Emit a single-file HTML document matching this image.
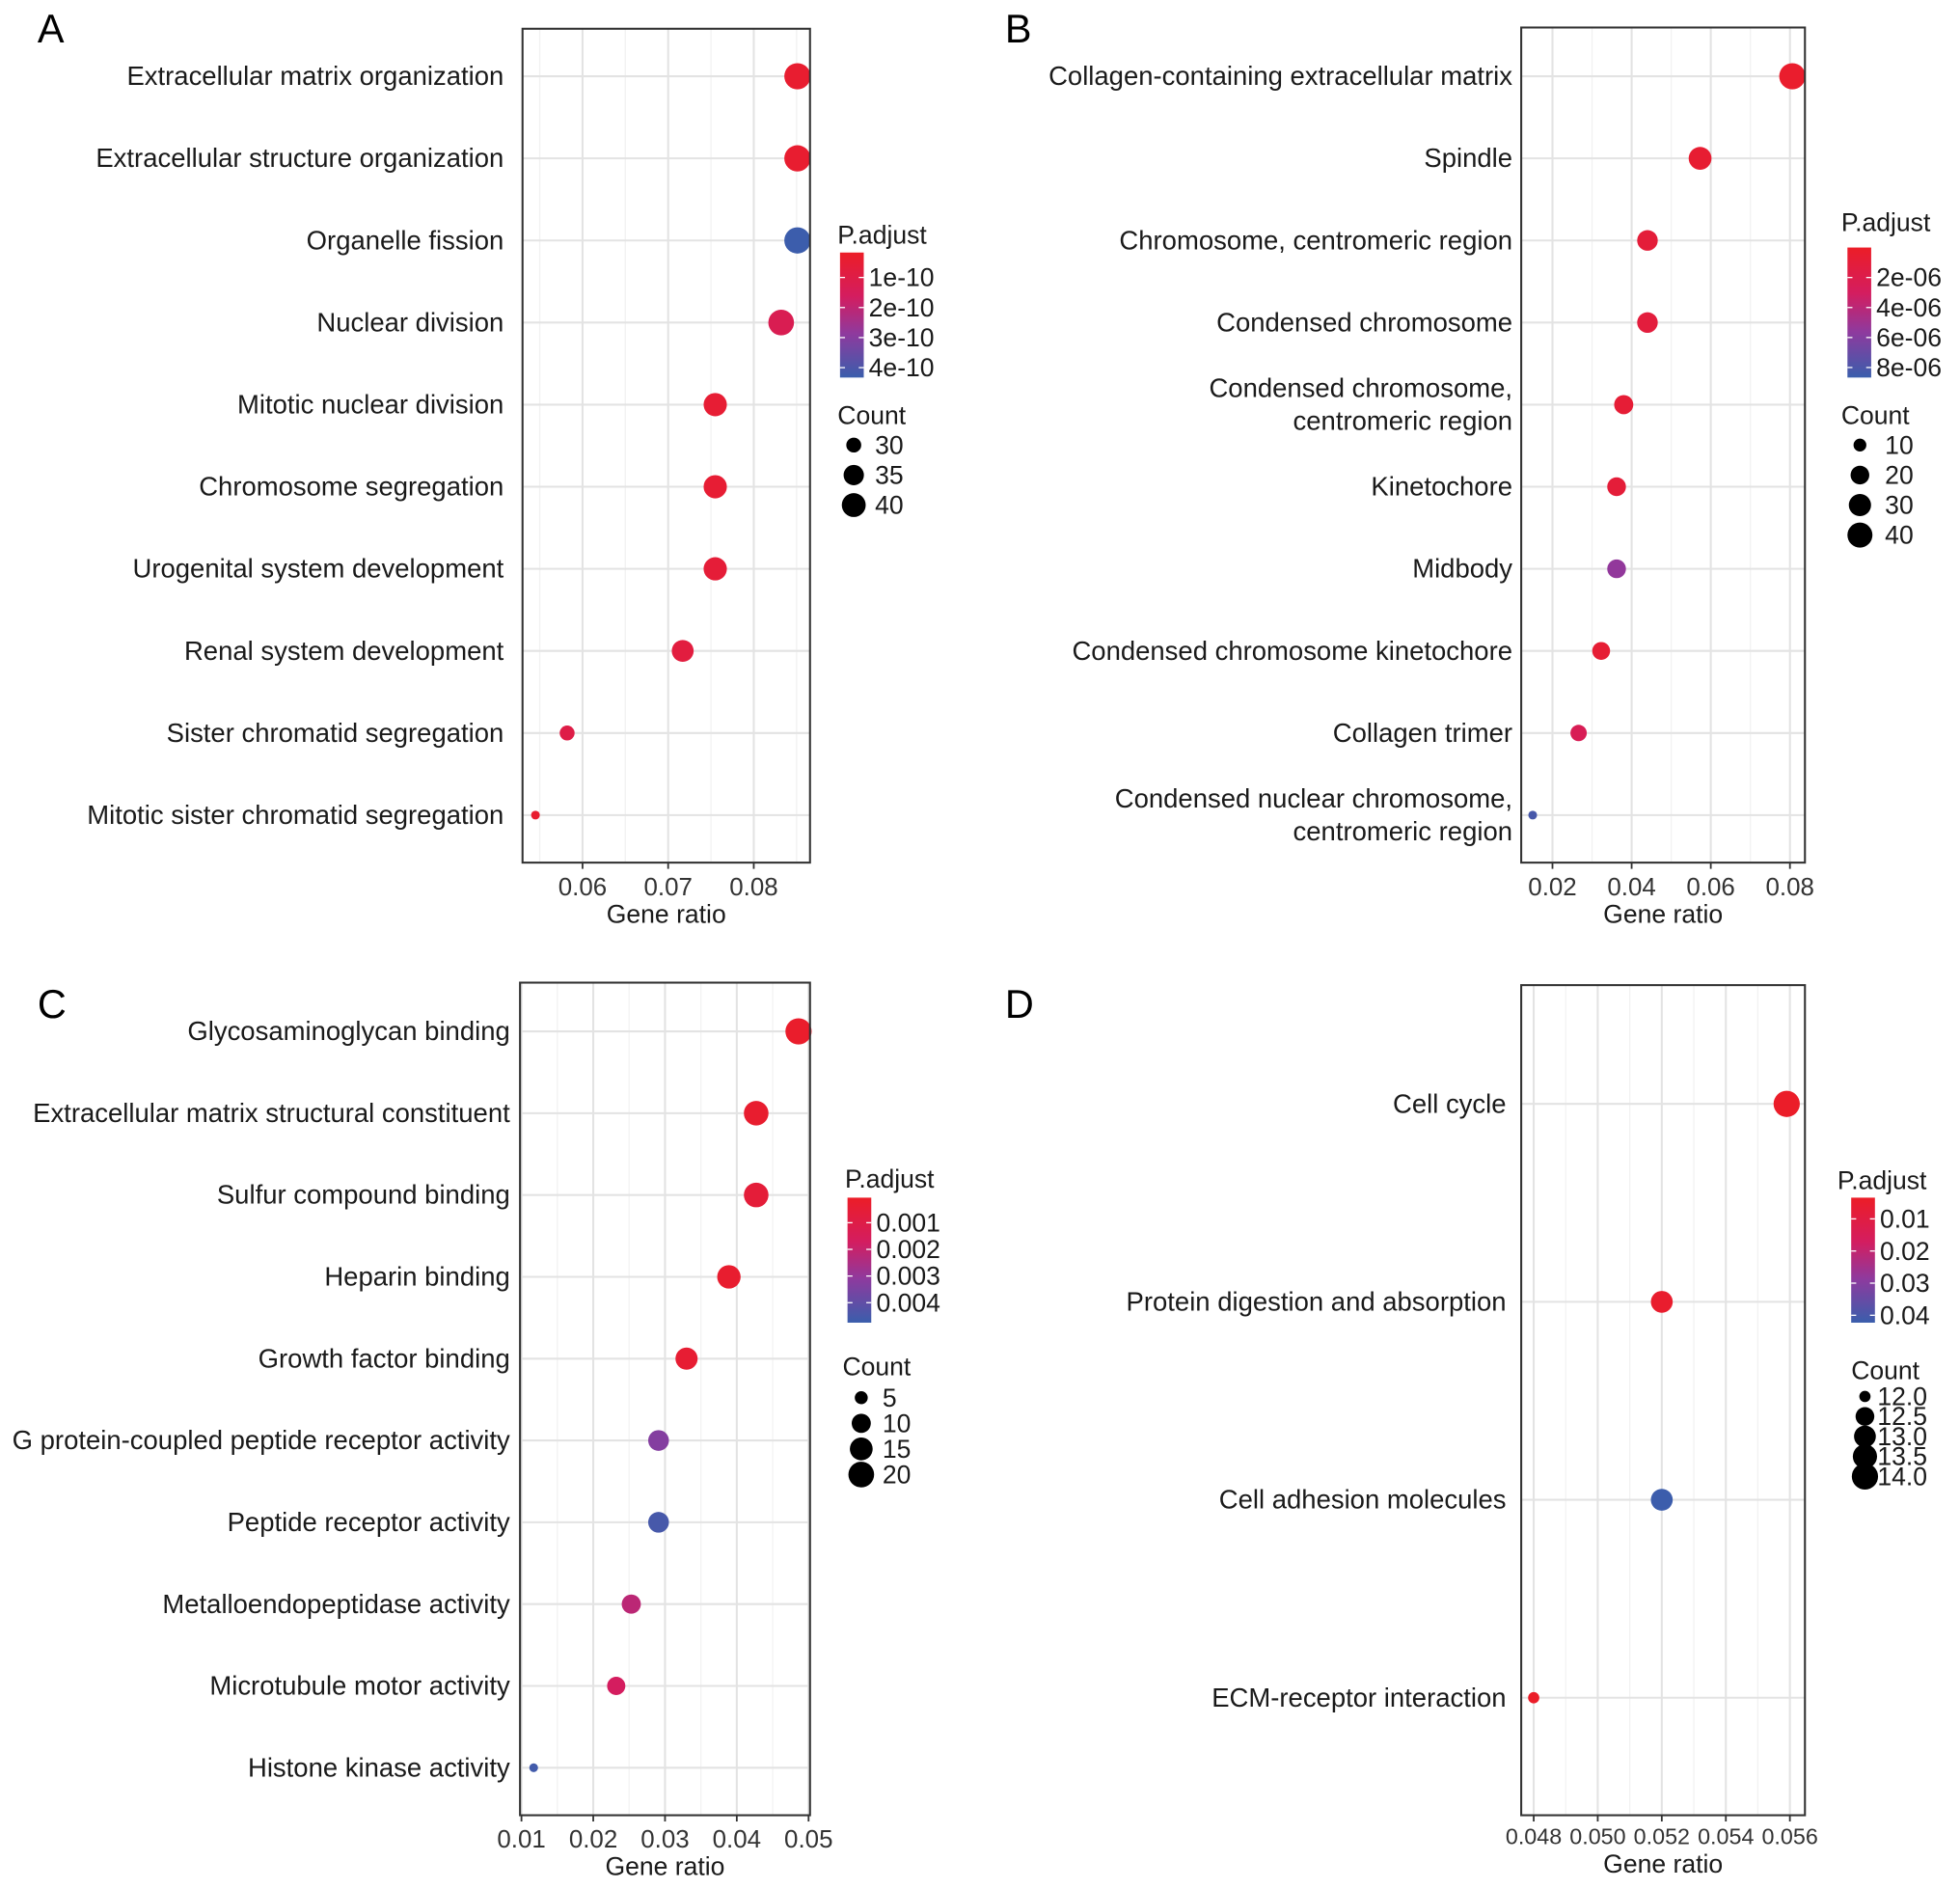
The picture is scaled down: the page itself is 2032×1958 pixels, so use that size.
<!DOCTYPE html>
<html><head><meta charset="utf-8">
<style>
html,body{margin:0;padding:0;background:#fff;}
svg{display:block;font-family:"Liberation Sans",Arial,sans-serif;}
</style></head>
<body>
<svg id="fig" xmlns="http://www.w3.org/2000/svg" width="2032" height="1958" viewBox="0 0 1568 1511">
<defs>
<linearGradient id="cbar" x1="0" y1="0" x2="0" y2="1">
<stop offset="0" stop-color="#EC1D27"/><stop offset="0.35" stop-color="#D41D5F"/><stop offset="0.65" stop-color="#8E3A9E"/><stop offset="1" stop-color="#3A5EAC"/>
</linearGradient>
</defs>
</svg>
<script>
// ---- Panel A data ----
const aTerms=["Extracellular matrix organization","Extracellular structure organization","Organelle fission","Nuclear division","Mitotic nuclear division","Chromosome segregation","Urogenital system development","Renal system development","Sister chromatid segregation","Mitotic sister chromatid segregation"];
const aRatio=[0.0851,0.0851,0.0851,0.0832,0.0755,0.0755,0.0755,0.0717,0.0582,0.0545];
const aPadj=[0.4e-10,0.4e-10,4.3e-10,1.3e-10,0.5e-10,0.5e-10,0.6e-10,0.8e-10,1.0e-10,0.4e-10];
const aCount=[44,44,44,43,39,39,39,37,30,28];
const aTicks=[0.06,0.07,0.08];
const aTickLabels=["0.06","0.07","0.08"];
const aCbarTicks=[1e-10,2e-10,3e-10,4e-10];
const aCbarLabels=["1e-10","2e-10","3e-10","4e-10"];
const aCountLegend=[30,35,40];
// ---- Panel B data ----
const bTerms=["Collagen-containing extracellular matrix","Spindle","Chromosome, centromeric region","Condensed chromosome","Condensed chromosome,|centromeric region","Kinetochore","Midbody","Condensed chromosome kinetochore","Collagen trimer","Condensed nuclear chromosome,|centromeric region"];
const bRatio=[0.0806,0.0573,0.0440,0.0440,0.0380,0.0362,0.0362,0.0323,0.0266,0.0150];
const bPadj=[0.3e-6,0.6e-6,1.0e-6,1.2e-6,0.8e-6,1.0e-6,5.5e-6,0.7e-6,2.5e-6,8.2e-6];
const bCount=[45,32,25,25,21,20,20,18,15,8];
const bTicks=[0.02,0.04,0.06,0.08];
const bTickLabels=["0.02","0.04","0.06","0.08"];
const bCbarTicks=[2e-6,4e-6,6e-6,8e-6];
const bCbarLabels=["2e-06","4e-06","6e-06","8e-06"];
const bCountLegend=[10,20,30,40];
// ---- Panel C data ----
const cTerms=["Glycosaminoglycan binding","Extracellular matrix structural constituent","Sulfur compound binding","Heparin binding","Growth factor binding","G protein-coupled peptide receptor activity","Peptide receptor activity","Metalloendopeptidase activity","Microtubule motor activity","Histone kinase activity"];
const cRatio=[0.0486,0.0427,0.0427,0.0389,0.0330,0.0291,0.0291,0.0253,0.0232,0.0117];
const cPadj=[0.0002,0.0003,0.0006,0.0003,0.0004,0.0033,0.0045,0.0022,0.0017,0.0046];
const cCount=[21,18,18,16,14,12,12,10,9,4];
const cTicks=[0.01,0.02,0.03,0.04,0.05];
const cTickLabels=["0.01","0.02","0.03","0.04","0.05"];
const cCbarTicks=[0.001,0.002,0.003,0.004];
const cCbarLabels=["0.001","0.002","0.003","0.004"];
const cCountLegend=[5,10,15,20];
// ---- Panel D data ----
const dTerms=["Cell cycle","Protein digestion and absorption","Cell adhesion molecules","ECM-receptor interaction"];
const dRatio=[0.0559,0.0520,0.0520,0.0480];
const dPadj=[0.004,0.005,0.042,0.004];
const dCount=[14,13,13,12];
const dTicks=[0.048,0.050,0.052,0.054,0.056];
const dTickLabels=["0.048","0.050","0.052","0.054","0.056"];
const dCbarTicks=[0.01,0.02,0.03,0.04];
const dCbarLabels=["0.01","0.02","0.03","0.04"];
const dCountLegend=[12.0,12.5,13.0,13.5,14.0];

const NS="http://www.w3.org/2000/svg";
const svg=document.getElementById('fig');
function mk(tag,attrs,parent){const e=document.createElementNS(NS,tag);for(const k in attrs)e.setAttribute(k,attrs[k]);(parent||svg).appendChild(e);return e;}
const stops=[[0,[236,29,39]],[0.35,[212,29,95]],[0.65,[142,58,158]],[1,[58,94,172]]];
function grad(t){t=Math.max(0,Math.min(1,t));for(let i=1;i<stops.length;i++){if(t<=stops[i][0]){const a=stops[i-1],b=stops[i];const u=(t-a[0])/(b[0]-a[0]);const c=a[1].map((v,j)=>Math.round(v+(b[1][j]-v)*u));return `rgb(${c[0]},${c[1]},${c[2]})`;}}return 'rgb(58,94,172)';}

function panel(cfg){
  const g=mk('g',{});
  
  
  const L=cfg.box[0],T=cfg.box[1],R=cfg.box[2],B=cfg.box[3];
  const xs=v=>L+(v-cfg.dom[0])/(cfg.dom[1]-cfg.dom[0])*(R-L);
  const n=cfg.terms.length;
  const ys=i=>cfg.rowTop+i*(cfg.rowBot-cfg.rowTop)/(n-1);
  const let_=mk('text',{x:cfg.letter[0],y:cfg.letter[1],'font-size':32,fill:'#000'},g);let_.textContent=cfg.letter[2];
  
  
  for(let i=0;i<cfg.ticks.length+1;i++){
    const step=cfg.ticks[1]-cfg.ticks[0];
    const v=cfg.ticks[0]-step/2+i*step;
    if(v>cfg.dom[0]&&v<cfg.dom[1]){mk('line',{x1:xs(v),x2:xs(v),y1:T,y2:B,stroke:'#f2f2f2','stroke-width':1},g);}
  }
  cfg.ticks.forEach(v=>{mk('line',{x1:xs(v),x2:xs(v),y1:T,y2:B,stroke:'#e3e3e3','stroke-width':1.6},g);});
  cfg.terms.forEach((t,i)=>{
    const gl=mk('line',{x1:L,x2:R,y1:ys(i),y2:ys(i),stroke:'#e3e3e3','stroke-width':1.6},g);
    
    
    const lines=t.split('|');
    const tx=mk('text',{x:L-cfg.labGap,'text-anchor':'end','font-size':21.2,fill:'#1a1a1a'},g);
    
    
    lines.forEach((ln,k)=>{const ts=mk('tspan',{x:L-cfg.labGap,y:ys(i)+7+(k-(lines.length-1)/2)*26},tx);ts.textContent=ln;});
  });
  const cmin=Math.min(...cfg.count),cmax=Math.max(...cfg.count);
  const rs=c=>cfg.r[0]+(cfg.r[1]-cfg.r[0])*Math.sqrt(Math.max(0,(c-cmin)/(cmax-cmin)));
  const cs=p=>grad((p-cfg.pdom[0])/(cfg.pdom[1]-cfg.pdom[0]));
  cfg.ratio.forEach((v,i)=>{
    const c=mk('circle',{cx:xs(v),cy:ys(i),r:rs(cfg.count[i]),fill:cs(cfg.padj[i])},g);
    
    
  });
  const border=mk('rect',{x:L,y:T,width:R-L,height:B-T,fill:'none',stroke:'#333','stroke-width':1.6},g);
  
  
  cfg.ticks.forEach((v,i)=>{
    mk('line',{x1:xs(v),x2:xs(v),y1:B,y2:B+5,stroke:'#333','stroke-width':1.4},g);
    const tl=mk('text',{x:xs(v),y:B+cfg.tickDy,'text-anchor':'middle','font-size':cfg.tickFont,fill:'#333'},g);tl.textContent=cfg.tickLabels[i];
    
    
  });
  const at=mk('text',{x:(L+R)/2,y:B+cfg.titleDy,'text-anchor':'middle','font-size':20.5,fill:'#1a1a1a'},g);at.textContent='Gene ratio';
  
  
  const lg=cfg.leg;
  const pt=mk('text',{x:lg.tx,y:lg.ty,'font-size':20.5,fill:'#1a1a1a'},g);pt.textContent='P.adjust';
  
  
  const cb=mk('rect',{x:lg.bx,y:lg.by0,width:19,height:lg.by1-lg.by0,fill:'url(#cbar)'},g);
  
  
  const cy=p=>lg.by0+(p-cfg.pdom[0])/(cfg.pdom[1]-cfg.pdom[0])*(lg.by1-lg.by0);
  cfg.cbarTicks.forEach((p,i)=>{
    mk('line',{x1:lg.bx,x2:lg.bx+4,y1:cy(p),y2:cy(p),stroke:'#fff','stroke-width':1},g);
    mk('line',{x1:lg.bx+15,x2:lg.bx+19,y1:cy(p),y2:cy(p),stroke:'#fff','stroke-width':1},g);
    const t=mk('text',{x:lg.bx+23,y:cy(p)+7,'font-size':20.5,fill:'#1a1a1a'},g);t.textContent=cfg.cbarLabels[i];
    
    
  });
  const ct=mk('text',{x:lg.ctx,y:lg.cty,'font-size':20.5,fill:'#1a1a1a'},g);ct.textContent='Count';
  
  
  cfg.countLegend.forEach((c,i)=>{
    const y=lg.cy0+i*lg.cdy;
    const cc=mk('circle',{cx:lg.cx,cy:y,r:rs(c),fill:'#000'},g);
    
    
    const t=mk('text',{x:lg.cx+lg.lx,y:y+7,'font-size':20.5,fill:'#1a1a1a'},g);t.textContent=c.toFixed(cfg.countDec);
    
    
  });
}

panel({name:'panel-a',letter:[30,34,'A'],box:[418,23,648,690],dom:[0.05299,0.08657],rowTop:61,rowBot:652,labGap:15,tickFont:20,
 terms:aTerms,ratio:aRatio,padj:aPadj,count:aCount,ticks:aTicks,tickLabels:aTickLabels,tickDy:26,titleDy:48,
 pdom:[0.17e-10,4.33e-10],r:[3.5,10.5],cbarTicks:aCbarTicks,cbarLabels:aCbarLabels,countLegend:aCountLegend,countDec:0,
 leg:{tx:670,ty:195,bx:672,by0:202,by1:302,ctx:670,cty:339,cx:683,cy0:356,cdy:24,lx:17}});
panel({name:'panel-b',letter:[804,34,'B'],box:[1217,22,1444,690],dom:[0.0121,0.08379],rowTop:61,rowBot:652,labGap:7,tickFont:20,
 terms:bTerms,ratio:bRatio,padj:bPadj,count:bCount,ticks:bTicks,tickLabels:bTickLabels,tickDy:26,titleDy:48,
 pdom:[0,8.67e-6],r:[3.5,10.5],cbarTicks:bCbarTicks,cbarLabels:bCbarLabels,countLegend:bCountLegend,countDec:0,
 leg:{tx:1473,ty:185,bx:1478,by0:198,by1:302,ctx:1473,cty:339,cx:1488,cy0:356,cdy:24,lx:20}});
panel({name:'panel-c',letter:[30,814,'C'],box:[416,786,648,1452],dom:[0.0098,0.0502],rowTop:825,rowBot:1414,labGap:8,tickFont:20,
 terms:cTerms,ratio:cRatio,padj:cPadj,count:cCount,ticks:cTicks,tickLabels:cTickLabels,tickDy:26,titleDy:48,
 pdom:[0.00006,0.00475],r:[3.5,10.5],cbarTicks:cCbarTicks,cbarLabels:cCbarLabels,countLegend:cCountLegend,countDec:0,
 leg:{tx:676,ty:950,bx:678,by0:958,by1:1058,ctx:674,cty:1100,cx:689,cy0:1118,cdy:20.5,lx:17}});
panel({name:'panel-d',letter:[804,814,'D'],box:[1217,788,1444,1452],dom:[0.04761,0.05647],rowTop:883,rowBot:1358,labGap:12,tickFont:18,
 terms:dTerms,ratio:dRatio,padj:dPadj,count:dCount,ticks:dTicks,tickLabels:dTickLabels,tickDy:23,titleDy:46,
 pdom:[0.0034,0.0423],r:[4.5,10.5],cbarTicks:dCbarTicks,cbarLabels:dCbarLabels,countLegend:dCountLegend,countDec:1,
 leg:{tx:1470,ty:951,bx:1481,by0:958,by1:1058,ctx:1481,cty:1103,cx:1492,cy0:1117,cdy:16,lx:10}});
</script>
</body></html>
